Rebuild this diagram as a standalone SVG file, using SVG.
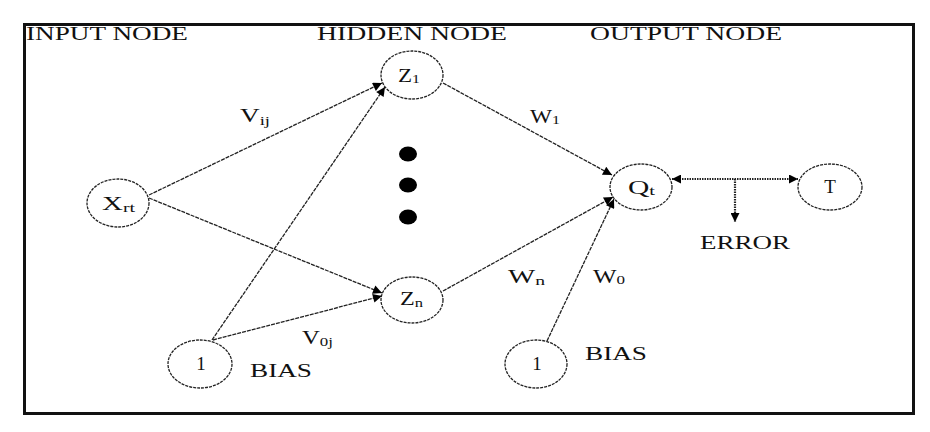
<svg xmlns="http://www.w3.org/2000/svg" width="930" height="432" viewBox="0 0 930 432">
<style>
text{font-family:"Liberation Serif","Times New Roman",serif;fill:#111;font-size:19px}
.sub{font-size:13px}
.node{fill:#fff;stroke:#222;stroke-width:1.3;stroke-dasharray:3 1}
.conn{fill:none;stroke:#222;stroke-width:1.3;stroke-dasharray:4 1}
.err{fill:none;stroke:#222;stroke-width:2.2;stroke-dasharray:1.5 1}
</style>
<defs>
<marker id="arr" viewBox="0 0 10 10" refX="10" refY="5" markerWidth="11" markerHeight="9" markerUnits="userSpaceOnUse" orient="auto-start-reverse">
<path d="M0,0 L10,5 L0,10 z" fill="#000"/>
</marker>
</defs>
<rect x="24.5" y="24.5" width="889" height="389" fill="#fff" stroke="#111" stroke-width="3"/>
<g id="headers">
<text x="26" y="40" textLength="162" lengthAdjust="spacingAndGlyphs">INPUT NODE</text>
<text x="317" y="40" textLength="190" lengthAdjust="spacingAndGlyphs">HIDDEN NODE</text>
<text x="590" y="40" textLength="192" lengthAdjust="spacingAndGlyphs">OUTPUT NODE</text>
</g>
<g id="connectors">
<path class="conn" d="M149,195 L382,83" marker-end="url(#arr)"/>
<path class="conn" d="M212,340 L385,87" marker-end="url(#arr)"/>
<path class="conn" d="M149,198 L382,293" marker-end="url(#arr)"/>
<path class="conn" d="M213,340 L382,296" marker-end="url(#arr)"/>
<path class="conn" d="M443,83 L612,175" marker-end="url(#arr)"/>
<path class="conn" d="M443,291 L613,197" marker-end="url(#arr)"/>
<path class="conn" d="M547,341 L614,199" marker-end="url(#arr)"/>
<path class="err" d="M672,179 L798,179" marker-start="url(#arr)" marker-end="url(#arr)"/>
<path class="err" d="M735,179 L735,222" marker-end="url(#arr)"/>
</g>
<g id="node-xrt">
<ellipse class="node" cx="118" cy="203" rx="31" ry="24"/>
<text x="102" y="210" textLength="33" lengthAdjust="spacingAndGlyphs">X<tspan class="sub" dy="2">rt</tspan></text>
</g>
<g id="node-z1">
<ellipse class="node" cx="412" cy="75" rx="31" ry="24"/>
<text x="398" y="82" textLength="22" lengthAdjust="spacingAndGlyphs">Z<tspan class="sub" dy="1">1</tspan></text>
</g>
<g id="node-zn">
<ellipse class="node" cx="412" cy="300" rx="31" ry="23"/>
<text x="400" y="305" textLength="23" lengthAdjust="spacingAndGlyphs">Z<tspan class="sub" dy="2">n</tspan></text>
</g>
<g id="dots">
<ellipse cx="408" cy="154" rx="9" ry="7.5" fill="#000"/>
<ellipse cx="408" cy="185" rx="9" ry="7.5" fill="#000"/>
<ellipse cx="408" cy="217" rx="9" ry="7.5" fill="#000"/>
</g>
<g id="node-qt">
<ellipse class="node" cx="641" cy="187" rx="31" ry="23"/>
<text x="628" y="194" textLength="27" lengthAdjust="spacingAndGlyphs">Q<tspan class="sub" dy="1">t</tspan></text>
</g>
<g id="node-t">
<ellipse class="node" cx="830" cy="187" rx="32" ry="23"/>
<text x="830" y="193" text-anchor="middle">T</text>
</g>
<g id="node-bias1">
<ellipse class="node" cx="200" cy="364" rx="32" ry="24"/>
<text x="201" y="370" text-anchor="middle">1</text>
<text x="250" y="377" textLength="62" lengthAdjust="spacingAndGlyphs">BIAS</text>
</g>
<g id="node-bias2">
<ellipse class="node" cx="536" cy="364" rx="31" ry="24"/>
<text x="537" y="370" text-anchor="middle">1</text>
<text x="585" y="360" textLength="62" lengthAdjust="spacingAndGlyphs">BIAS</text>
</g>
<g id="labels">
<text x="240" y="122" textLength="30" lengthAdjust="spacingAndGlyphs">V<tspan class="sub" dy="3">ij</tspan></text>
<text x="530" y="123" textLength="30" lengthAdjust="spacingAndGlyphs">W<tspan class="sub" dy="1">1</tspan></text>
<text x="508" y="283" textLength="37" lengthAdjust="spacingAndGlyphs">W<tspan class="sub" dy="2">n</tspan></text>
<text x="593" y="283" textLength="32" lengthAdjust="spacingAndGlyphs">W<tspan class="sub" dy="1">0</tspan></text>
<text x="302" y="344" textLength="31" lengthAdjust="spacingAndGlyphs">V<tspan class="sub" dy="2">0j</tspan></text>
<text x="700" y="249" textLength="90" lengthAdjust="spacingAndGlyphs">ERROR</text>
</g>
</svg>
